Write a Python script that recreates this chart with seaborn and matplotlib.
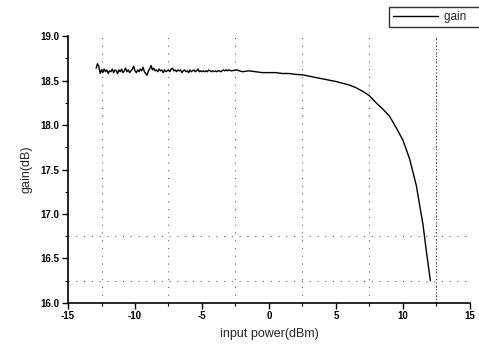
import numpy as np
import pandas as pd
import matplotlib
matplotlib.use("Agg")
import matplotlib.pyplot as plt
from matplotlib.ticker import MultipleLocator
import seaborn as sns

input_power = [-12.9, -12.8, -12.7, -12.6, -12.5, -12.4, -12.3, -12.2, -12.1, -12.0,
               -11.9, -11.8, -11.7, -11.6, -11.5, -11.4, -11.3, -11.2, -11.1, -11.0,
               -10.9, -10.8, -10.7, -10.6, -10.5, -10.4, -10.3, -10.2, -10.1, -10.0,
               -9.9, -9.8, -9.7, -9.6, -9.5, -9.4, -9.3, -9.2, -9.1, -9.0,
               -8.9, -8.8, -8.7, -8.6, -8.5, -8.4, -8.3, -8.2, -8.1, -8.0,
               -7.9, -7.8, -7.7, -7.6, -7.5, -7.4, -7.3, -7.2, -7.1, -7.0,
               -6.9, -6.8, -6.7, -6.6, -6.5, -6.4, -6.3, -6.2, -6.1, -6.0,
               -5.9, -5.8, -5.7, -5.6, -5.5, -5.4, -5.3, -5.2, -5.1, -5.0,
               -4.9, -4.8, -4.7, -4.6, -4.5, -4.4, -4.3, -4.2, -4.1, -4.0,
               -3.9, -3.8, -3.7, -3.6, -3.5, -3.4, -3.3, -3.2, -3.1, -3.0,
               -2.8, -2.4, -2.0, -1.5, -1.0, -0.5, 0.0, 0.5, 1.0, 1.5,
               2.0, 2.5, 3.0, 3.5, 4.0, 4.5, 5.0, 5.5, 6.0, 6.5,
               7.0, 7.5, 8.0, 8.5, 9.0, 9.5, 10.0, 10.5, 11.0, 11.5,
               11.75, 12.05]
gain = [18.64, 18.69, 18.66, 18.58, 18.62, 18.59, 18.63, 18.60, 18.62, 18.58,
        18.61, 18.60, 18.63, 18.59, 18.62, 18.61, 18.58, 18.62, 18.60, 18.63,
        18.59, 18.61, 18.64, 18.60, 18.62, 18.59, 18.61, 18.63, 18.66, 18.61,
        18.59, 18.62, 18.60, 18.63, 18.61, 18.65, 18.60, 18.58, 18.56, 18.61,
        18.63, 18.67, 18.62, 18.64, 18.61, 18.62, 18.60, 18.63, 18.61, 18.62,
        18.59, 18.62, 18.60, 18.61, 18.62, 18.60, 18.63, 18.64, 18.61, 18.62,
        18.60, 18.62, 18.61, 18.62, 18.59, 18.61, 18.62, 18.60, 18.61, 18.59,
        18.62, 18.60, 18.61, 18.62, 18.60, 18.61, 18.63, 18.60, 18.61, 18.60,
        18.61, 18.60, 18.61, 18.60, 18.62, 18.61, 18.60, 18.61, 18.60, 18.61,
        18.60, 18.61, 18.61, 18.60, 18.61, 18.62, 18.61, 18.62, 18.61, 18.62,
        18.61, 18.62, 18.60, 18.61, 18.60, 18.59, 18.59, 18.59, 18.58, 18.58,
        18.57, 18.565, 18.55, 18.535, 18.52, 18.505, 18.49, 18.47, 18.45, 18.42,
        18.38, 18.33, 18.25, 18.18, 18.10, 17.97, 17.83, 17.62, 17.32, 16.88,
        16.58, 16.25]

df = pd.DataFrame({"input power(dBm)": input_power, "gain(dB)": gain})

sns.set_style("ticks")
plt.rcParams['font.family'] = ['Liberation Sans', 'DejaVu Sans']

fig = plt.figure(figsize=(4.79, 3.51), dpi=100)
ax = fig.add_axes([0.142, 0.137, 0.839, 0.760])

sns.lineplot(data=df, x="input power(dBm)", y="gain(dB)", ax=ax,
             color="black", lw=1.0, label="gain", sort=False)

ax.set_xlim(-15, 15)
ax.set_ylim(16.0, 19.0)
ax.xaxis.set_minor_locator(MultipleLocator(2.5))
ax.yaxis.set_minor_locator(MultipleLocator(0.25))
ax.set_xticks(np.arange(-15, 16, 5))
ax.set_xticklabels([str(v) for v in range(-15, 16, 5)])
ax.set_yticks(np.arange(16.0, 19.01, 0.5))
ax.set_yticklabels([f"{v:.1f}" for v in np.arange(16.0, 19.01, 0.5)])

ax.grid(which="minor", axis="x", color="#666666", linestyle=(0, (1, 6)), lw=0.8)
ax.axvline(12.5, color="#333333", linestyle=(0, (1, 2)), lw=0.8)
for yv in (16.25, 16.75):
    ax.axhline(yv, color="#666666", linestyle=(0, (1, 6)), lw=0.8)

for s in ("top", "right"):
    ax.spines[s].set_visible(False)
for s in ("left", "bottom"):
    ax.spines[s].set_linewidth(1.2)
    ax.spines[s].set_color("black")

ax.tick_params(which="major", length=4, width=1, labelsize=7, colors="black", pad=2)
ax.tick_params(which="minor", length=2, width=0.8, colors="black")
for lab in ax.get_xticklabels() + ax.get_yticklabels():
    lab.set_fontweight("bold")

ax.set_xlabel("input power(dBm)", fontsize=9, labelpad=5)
ax.set_ylabel("gain(dB)", fontsize=9, labelpad=6)

leg = ax.legend(loc="upper left", bbox_to_anchor=(389 / 479, 1 - 7 / 351),
                bbox_transform=fig.transFigure, frameon=True, fancybox=False,
                fontsize=8.5, handlelength=3.8, handletextpad=0.5,
                borderpad=0.35, borderaxespad=0)
leg.get_frame().set_edgecolor("black")
leg.get_frame().set_linewidth(1.0)
for t in leg.get_texts():
    t.set_text("gain   ")

fig.savefig("out.png", dpi=100)
